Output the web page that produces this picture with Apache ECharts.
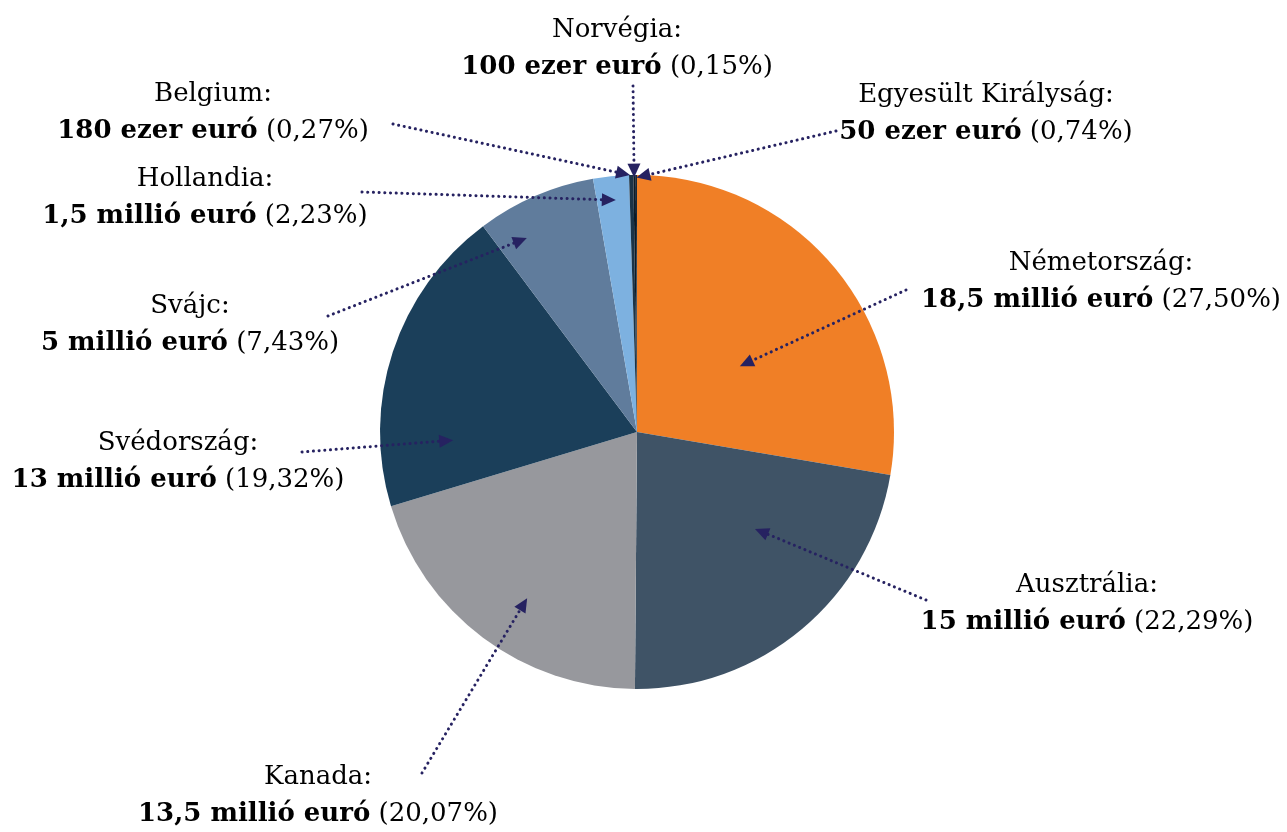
<!DOCTYPE html>
<html><head><meta charset="utf-8">
<script src="https://cdn.jsdelivr.net/npm/echarts@6/dist/echarts.min.js"></script>
<style>html,body{margin:0;padding:0;background:#fff}#c{width:1287px;height:832px}</style>
</head><body><div id="c"></div>
<script>
// ---- data ----
const countries = ['Németország','Ausztrália','Kanada','Svédország','Svájc','Hollandia','Belgium','Norvégia','Egyesült Királyság'];
const values = [18.5, 15, 13.5, 13, 5, 1.5, 0.18, 0.1, 0.05];
const valueTexts = ['18,5 millió euró','15 millió euró','13,5 millió euró','13 millió euró','5 millió euró','1,5 millió euró','180 ezer euró','100 ezer euró','50 ezer euró'];
const percentTexts = ['27,50%','22,29%','20,07%','19,32%','7,43%','2,23%','0,27%','0,15%','0,74%'];

// ---- styles / layout ----
const colors = ['#F07F26','#3F5366','#97989D','#1B3F5A','#607C9C','#7DB1E0','#1A3347','#0E1B26','#15293A'];
const CX = 637, CY = 432, R = 257;
const FONT = 'DejaVu Serif';
const FS = 26;
const labelPos = [[1101,282],[1087,604],[318,796],[178,462],[190,325],[205,198],[213,113],[617,49],[986,114]];
const arrowTail = [[906,290],[926,600],[422,773],[302,452],[328,316],[362,192],[393,124],[633,86],[836,131]];
// tip: [fraction of slice angle, fraction of radius]
const arrowTip = [[0.576,0.475],[0.368,0.594],[0.454,0.775],[0.204,0.716],[0.267,0.868],[0.575,0.906],[0.23,1.0],[0.3,0.99],[0.5,0.99]];
const ARROW = '#262261';

const total = values.reduce((a,b)=>a+b,0);
let acc = 0;
const graphics = [];
values.forEach((v,i)=>{
  const a0 = acc/total*360, a1 = (acc+v)/total*360; acc += v;
  const ang = (a0 + (a1-a0)*arrowTip[i][0]) * Math.PI/180;
  const r = R*arrowTip[i][1];
  const tx = CX + r*Math.sin(ang), ty = CY - r*Math.cos(ang);
  const [sx, sy] = arrowTail[i];
  const dx = tx-sx, dy = ty-sy, len = Math.hypot(dx,dy);
  const ux = dx/len, uy = dy/len;
  const L = 14, W = 6.5;
  const bx = tx-ux*L, by = ty-uy*L;
  graphics.push({type:'line', silent:true, z:10,
    shape:{x1:sx, y1:sy, x2:bx, y2:by},
    style:{stroke:ARROW, lineWidth:3, lineDash:[0.1,5.6], lineCap:'round'}});
  graphics.push({type:'polygon', silent:true, z:11,
    shape:{points:[[tx,ty],[bx-uy*W, by+ux*W],[bx+uy*W, by-ux*W]]},
    style:{fill:ARROW}});
});

const chart = echarts.init(document.getElementById('c'));
chart.setOption({
  animation:false,
  backgroundColor:'#fff',
  color: colors,
  graphic: graphics,
  series:[{
    type:'pie',
    center:[CX, CY],
    radius:R,
    startAngle:90,
    clockwise:true,
    avoidLabelOverlap:false,
    minShowLabelAngle:0,
    itemStyle:{borderWidth:0},
    emphasis:{disabled:true},
    data: countries.map((c,i)=>({name:c, value:values[i]})),
    label:{
      show:true, position:'outside',
      formatter:(p)=>'{n|'+countries[p.dataIndex]+':}\n{b|'+valueTexts[p.dataIndex]+'}{p| ('+percentTexts[p.dataIndex]+')}',
      rich:{
        n:{fontFamily:FONT, fontSize:FS, lineHeight:37, color:'#000'},
        b:{fontFamily:FONT, fontSize:FS, lineHeight:37, color:'#000', fontWeight:'bold'},
        p:{fontFamily:FONT, fontSize:FS, lineHeight:37, color:'#000'}
      }
    },
    labelLine:{show:false},
    labelLayout:(params)=>({x:labelPos[params.dataIndex][0], y:labelPos[params.dataIndex][1], align:'center', verticalAlign:'middle'})
  }]
});
</script></body></html>
